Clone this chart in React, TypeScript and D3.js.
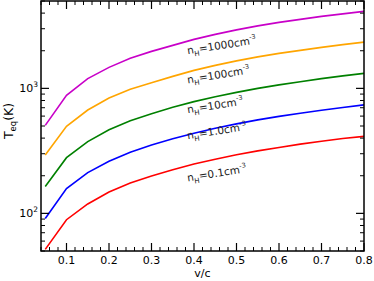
import { useEffect, useRef } from "react";
import * as d3 from "d3";

// v/c sample points
const speeds = [0.05, 0.1, 0.15, 0.2, 0.25, 0.3, 0.35, 0.4, 0.45, 0.5, 0.55, 0.6, 0.65, 0.7, 0.75, 0.8];

// T_eq (K) per density
const teq1000 = [506, 880, 1196, 1472, 1738, 1977, 2208, 2466, 2704, 2938, 3162, 3373, 3565, 3767, 3945, 4130];
const teq100 = [293, 497, 671, 836, 982, 1110, 1247, 1393, 1528, 1660, 1786, 1905, 2014, 2128, 2237, 2346];
const teq10 = [164, 279, 375, 467, 551, 627, 705, 783, 858, 929, 1000, 1067, 1131, 1196, 1259, 1318];
const teq1 = [91, 158, 212, 261, 308, 352, 395, 438, 480, 520, 560, 597, 633, 669, 702, 738];
const teq01 = [51.5, 89, 119, 148, 175, 199, 223, 248, 271, 294, 316, 337, 358, 378, 397, 413];

const seriesNames = ["1000", "100", "10", "1.0", "0.1"];
const seriesColors = ["#c800c8", "#ffa500", "#008000", "#0000ff", "#ff0000"];
const seriesValues = [teq1000, teq100, teq10, teq1, teq01];
// label anchor (v/c, T) for each curve label
const labelSpeed = [0.385, 0.385, 0.385, 0.385, 0.385];
const labelTemp = [1871, 1096, 631, 391, 180];

const xTickLabels = ["0.1", "0.2", "0.3", "0.4", "0.5", "0.6", "0.7", "0.8"];

export default function App() {
  const svgRef = useRef<SVGSVGElement>(null);

  useEffect(() => {
    if (!svgRef.current) return;
    const L = 41, R = 364, T = 1, B = 251;
    const FONT = "'DejaVu Sans', Verdana, sans-serif";

    const svg = d3.select(svgRef.current);
    svg.selectAll("*").remove();

    const x = d3.scaleLinear().domain([0.04, 0.8]).range([L, R]);
    const y = d3.scaleLog().domain([50, 5000]).range([B, T]);

    const defs = svg.append("defs");
    defs.append("clipPath").attr("id", "plot-clip")
      .append("rect").attr("x", L).attr("y", T).attr("width", R - L).attr("height", B - T);

    // ── curves ──────────────────────────────
    const line = d3.line<number>()
      .x((_, i) => x(speeds[i]))
      .y(d => y(d));
    const g = svg.append("g").attr("clip-path", "url(#plot-clip)");
    seriesValues.forEach((vals, i) => {
      g.append("path")
        .attr("d", line(vals))
        .attr("fill", "none")
        .attr("stroke", seriesColors[i])
        .attr("stroke-width", 1.6);
    });

    // ── frame + ticks (all inward) ──────────
    const ax = svg.append("g").attr("stroke", "#000");
    const majorX = d3.range(1, 9).map(d => d / 10);
    const minorX = d3.range(2, 41).map(d => d / 50).filter(d => Math.round(d * 100) % 10 !== 0);
    majorX.forEach(v => {
      ax.append("line").attr("x1", x(v)).attr("x2", x(v)).attr("y1", B).attr("y2", B - 8).attr("stroke-width", 1.2);
      ax.append("line").attr("x1", x(v)).attr("x2", x(v)).attr("y1", T).attr("y2", T + 8).attr("stroke-width", 1.2);
    });
    minorX.forEach(v => {
      ax.append("line").attr("x1", x(v)).attr("x2", x(v)).attr("y1", B).attr("y2", B - 4).attr("stroke-width", 1);
      ax.append("line").attr("x1", x(v)).attr("x2", x(v)).attr("y1", T).attr("y2", T + 4).attr("stroke-width", 1);
    });
    const logTicks = y.ticks().filter(v => v >= 50 && v <= 5000);
    logTicks.forEach(v => {
      const major = Math.abs(Math.log10(v) - Math.round(Math.log10(v))) < 1e-6;
      const len = major ? 8 : 4;
      ax.append("line").attr("x1", L).attr("x2", L + len).attr("y1", y(v)).attr("y2", y(v)).attr("stroke-width", major ? 1.2 : 1);
      ax.append("line").attr("x1", R).attr("x2", R - len).attr("y1", y(v)).attr("y2", y(v)).attr("stroke-width", major ? 1.2 : 1);
    });
    svg.append("rect")
      .attr("x", L).attr("y", T).attr("width", R - L).attr("height", B - T)
      .attr("fill", "none").attr("stroke", "#000").attr("stroke-width", 1.5);

    // ── tick labels ─────────────────────────
    const tl = svg.append("g").style("font-family", FONT).attr("font-size", 11).attr("fill", "#000");
    xTickLabels.forEach(s => {
      tl.append("text").attr("x", x(+s)).attr("y", 264).attr("text-anchor", "middle").text(s);
    });
    [100, 1000].forEach(v => {
      const t = tl.append("text").attr("x", L - 3).attr("y", y(v) + 4).attr("text-anchor", "end");
      t.append("tspan").text("10");
      t.append("tspan").attr("dy", -5).attr("font-size", 7.5).text(String(Math.round(Math.log10(v))));
    });

    // ── axis titles ─────────────────────────
    tl.append("text").attr("x", (L + R) / 2).attr("y", 277).attr("text-anchor", "middle").text("v/c");
    const yt = tl.append("text")
      .attr("transform", `translate(13,${(T + B) / 2 - 5}) rotate(-90)`)
      .attr("text-anchor", "middle")
      .attr("font-size", 12.5);
    yt.append("tspan").text("T");
    yt.append("tspan").attr("dy", 3).attr("font-size", 8.5).text("eq");
    yt.append("tspan").attr("dy", -3).text("(K)");

    // ── curve labels ────────────────────────
    const lab = svg.append("g").style("font-family", FONT).attr("fill", "#222");
    seriesNames.forEach((n, i) => {
      const t = lab.append("text")
        .attr("transform", `translate(${x(labelSpeed[i])},${y(labelTemp[i])}) rotate(-9)`)
        .attr("font-size", 10.5);
      t.append("tspan").text("n");
      t.append("tspan").attr("dy", 3).attr("font-size", 7).text("H");
      t.append("tspan").attr("dy", -3).text(`=${n}cm`);
      t.append("tspan").attr("dy", -5).attr("font-size", 6.5).text("-3");
    });
  }, []);

  return (
    <svg ref={svgRef} width={374} height={281}
      style={{ position: "absolute", left: 0, top: 0, background: "#fff" }} />
  );
}
